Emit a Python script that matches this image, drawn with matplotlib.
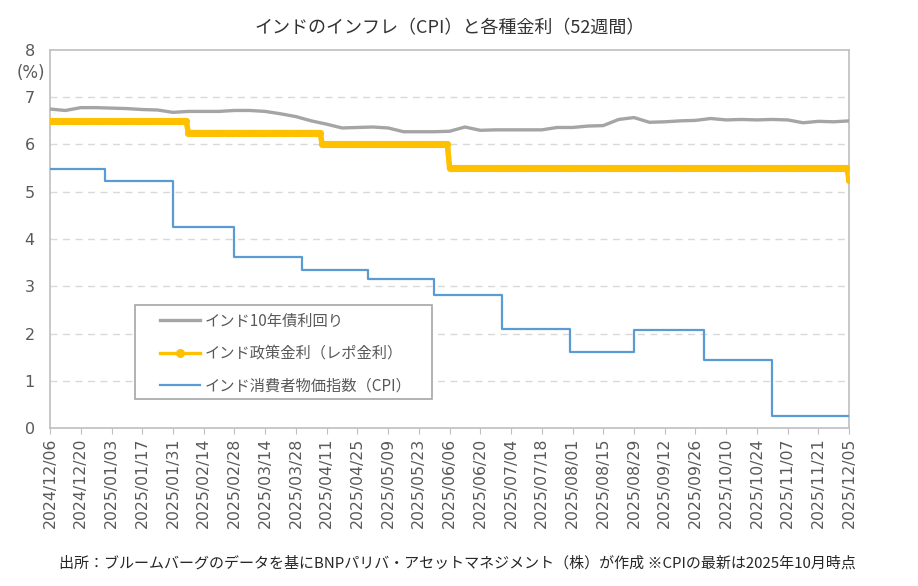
import matplotlib
matplotlib.use("Agg")
import matplotlib.pyplot as plt
from matplotlib.patches import Rectangle
import pandas as pd

plt.rcParams['font.family'] = ['Noto Sans CJK JP', 'DejaVu Sans']

# ---- data ----
start_date = "2024-12-06"
end_date = "2025-12-05"

# India 10Y yield, weekly readings (%)
bond_dates = pd.date_range(start_date, periods=53, freq="7D")
bond_values = [6.75, 6.72, 6.78, 6.78, 6.77, 6.76, 6.74, 6.73, 6.68, 6.70,
               6.70, 6.70, 6.72, 6.72, 6.70, 6.65, 6.59, 6.50, 6.43, 6.35,
               6.36, 6.37, 6.35, 6.27, 6.27, 6.27, 6.28, 6.37, 6.30, 6.31,
               6.31, 6.31, 6.31, 6.36, 6.36, 6.39, 6.40, 6.53, 6.57, 6.47,
               6.48, 6.50, 6.51, 6.55, 6.52, 6.53, 6.52, 6.53, 6.52, 6.46,
               6.49, 6.48, 6.50]

# Repo rate decisions (effective date, rate %)
repo_change_dates = ["2024-12-06", "2025-02-07", "2025-04-09", "2025-06-06", "2025-12-05"]
repo_rates = [6.50, 6.25, 6.00, 5.50, 5.25]

# CPI (y/y %), plotted from month end
cpi_dates = ["2024-11-29", "2024-12-31", "2025-01-31", "2025-02-28", "2025-03-31",
             "2025-04-30", "2025-05-30", "2025-06-30", "2025-07-31", "2025-08-29",
             "2025-09-30", "2025-10-31", "2025-12-05"]
cpi_values = [5.48, 5.22, 4.26, 3.61, 3.34, 3.16, 2.82, 2.10, 1.61, 2.07, 1.44, 0.25, 0.25]

tick_labels = ["2024/12/06", "2024/12/20", "2025/01/03", "2025/01/17", "2025/01/31",
               "2025/02/14", "2025/02/28", "2025/03/14", "2025/03/28", "2025/04/11",
               "2025/04/25", "2025/05/09", "2025/05/23", "2025/06/06", "2025/06/20",
               "2025/07/04", "2025/07/18", "2025/08/01", "2025/08/15", "2025/08/29",
               "2025/09/12", "2025/09/26", "2025/10/10", "2025/10/24", "2025/11/07",
               "2025/11/21", "2025/12/05"]

title = "インドのインフレ（CPI）と各種金利（52週間）"
source = "出所：ブルームバーグのデータを基にBNPパリバ・アセットマネジメント（株）が作成 ※CPIの最新は2025年10月時点"
labels = ["インド10年債利回り", "インド政策金利（レポ金利）", "インド消費者物価指数（CPI）"]

# ---- build series ----
days = pd.date_range(start_date, end_date, freq="D")
repo_s = pd.Series(repo_rates, index=pd.to_datetime(repo_change_dates))
repo_daily = repo_s.reindex(days, method="ffill")
cpi_idx = pd.to_datetime(cpi_dates)
t0 = pd.Timestamp(start_date)
cpi_plot_dates = [max(d, t0) for d in cpi_idx]

# ---- plot ----
fig = plt.figure(figsize=(9.18, 5.86), dpi=100)
ax = fig.add_axes([0.0545, 0.2696, 0.8705, 0.6451])

txt = "#595959"
latin = ['DejaVu Sans', 'Noto Sans CJK JP']
ax.plot(bond_dates, bond_values, color="#A5A5A5", lw=2.4, label=labels[0], zorder=3)
ax.plot(repo_daily.index, repo_daily.values, color="#FFC000", lw=4, marker="o",
        markersize=5.2, markeredgewidth=0, label=labels[1], zorder=4)
ax.step(cpi_plot_dates, cpi_values, where="post", color="#5B9BD5", lw=1.6,
        label=labels[2], zorder=3)

ax.set_xlim(pd.Timestamp(start_date), pd.Timestamp(end_date))
ax.set_ylim(0, 8)
ax.set_yticks(range(0, 9))
ax.set_yticklabels([str(v) for v in range(0, 9)], family=latin, fontsize=11.5, color=txt)
ax.tick_params(axis="y", length=0, pad=11)
ticks = pd.to_datetime(tick_labels, format="%Y/%m/%d")
ax.set_xticks(ticks)
ax.set_xticklabels(tick_labels, rotation=90, fontsize=11.3, color=txt, family=latin)
ax.tick_params(axis="x", length=4, color="#BFBFBF", pad=3)

for y in range(1, 8):
    ax.axhline(y, color="#D9D9D9", lw=1, ls=(0, (5, 4)), zorder=1)
for s in ax.spines.values():
    s.set_color("#BFBFBF")
    s.set_linewidth(1.2)

fig.text(0.034, 0.875, "(%)", fontsize=12, color=txt, ha="center", va="center", family=latin)
fig.text(0.49, 0.952, title, fontsize=13, color="#333333", ha="center", va="center")
fig.text(0.932, 0.039, source, fontsize=10.8, color="#262626", ha="right", va="center")

# legend frame
ax.add_patch(Rectangle((0.1064, 0.0767), 0.3717, 0.2487, transform=ax.transAxes,
                       facecolor="white", edgecolor="#A6A6A6", lw=1.2, zorder=6))
leg = ax.legend(loc="upper left", bbox_to_anchor=(0.1377, 0.305), frameon=False,
                fontsize=11, handlelength=2.6, borderpad=0, labelspacing=1.0,
                handletextpad=0.3, borderaxespad=0)
leg.set_zorder(7)
for t in leg.get_texts():
    t.set_color(txt)
leg.legend_handles[1].set_linewidth(2.4)
leg.legend_handles[1].set_markersize(6.5)

fig.savefig("out.png", dpi=100)
